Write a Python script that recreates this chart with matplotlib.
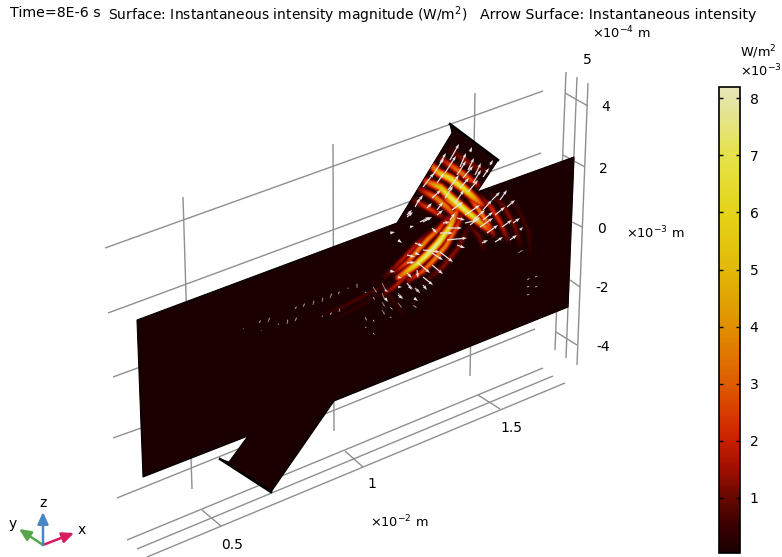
"""
plot.py
COMSOL style surface plot of instantaneous intensity on a branched plate.
The scene is a perspective view, so geometry is kept in picture pixels.
"""

import matplotlib
matplotlib.use("Agg")
import matplotlib.pyplot as plt
import numpy as np
from matplotlib.colors import LinearSegmentedColormap, Normalize
from matplotlib.cm import ScalarMappable
from matplotlib.patches import Polygon

# plate outline, with both branches
plate_outline = [(137, 320), (397, 223), (452, 133), (450, 124), (498, 160), (477, 192),
                 (574, 157), (568, 307), (334, 401), (271, 492), (220, 459), (229, 462),
                 (248, 436), (143, 477)]
branch_end = [(450, 124), (498, 160)]
branch_tab = [(220, 459), (271, 492)]

# grid lines behind the plate
wall_lines = [[(105, 248), (543, 91)], [(108, 313), (541, 153)], [(113, 377), (530, 225)],
              [(113, 438), (530, 290)], [(117, 498), (535, 329)]]
wall_verticals = [[(183, 197), (192, 489)], [(333, 144), (334, 431)], [(475, 93), (470, 376)]]
right_lines = [[(566, 72), (555, 350)], [(577, 77), (566, 358)], [(588, 83), (577, 365)]]
right_ticks = [[(565, 93), (588, 106)], [(563, 155), (585, 167)], [(572, 222), (582, 227)],
               [(570, 280), (580, 287)], [(556, 332), (577, 345)]]
floor_lines = [[(127, 540), (543, 368)], [(137, 549), (553, 376)], [(147, 557), (565, 383)]]
floor_ticks = [[(202, 510), (221, 526)], [(345, 451), (363, 467)], [(478, 395), (500, 409)]]

# fringes of the intensity field: value in W/m2 (x1e-3), half width in px, centre line
fringes = [
    (1.3, 3.5, [(450, 150), (460, 158), (472, 166), (485, 172)]),
    (3.4, 3.5, [(441, 160), (452, 167), (463, 175), (478, 186)]),
    (7.0, 3.8, [(430, 165), (438, 173), (450, 179), (462, 188), (472, 197), (481, 205)]),
    (7.6, 3.8, [(426, 182), (440, 188), (450, 198), (458, 205), (470, 215), (488, 230)]),
    (3.8, 3.5, [(420, 190), (435, 198), (447, 208), (458, 220)]),
    (2.4, 3.2, [(414, 201), (432, 211), (443, 218)]),
    (3.6, 3.0, [(468, 197), (478, 210), (486, 222), (493, 235)]),
    (2.2, 3.0, [(480, 197), (490, 207), (500, 223), (507, 240)]),
    (1.2, 3.0, [(492, 195), (504, 208), (514, 226), (520, 245)]),
    (0.6, 2.5, [(505, 193), (518, 210), (528, 232), (530, 255)]),
    (1.0, 3.0, [(468, 225), (478, 236), (484, 250)]),
    (4.6, 3.5, [(443, 198), (452, 203), (460, 212)]),
    (3.8, 3.0, [(461, 216), (455, 230), (445, 247), (432, 262), (422, 272), (408, 281)]),
    (8.0, 3.5, [(456, 212), (449, 228), (438, 243), (427, 255), (417, 264), (398, 278)]),
    (3.8, 3.0, [(448, 218), (438, 230), (428, 239), (418, 250), (408, 262), (395, 272)]),
    (1.8, 3.0, [(431, 232), (418, 243), (405, 257), (385, 277)]),
    (1.3, 3.0, [(468, 228), (458, 248), (442, 268), (425, 282)]),
    (1.8, 2.5, [(418, 268), (403, 279), (393, 288), (382, 296)]),
    (0.7, 2.2, [(393, 283), (370, 293), (343, 307), (323, 315)]),
    (0.4, 2.0, [(385, 292), (360, 306), (335, 320)]),
    (0.5, 2.5, [(373, 280), (390, 297), (402, 315)]),
]

# arrows as (tail x, tail y, head x, head y) in px, grouped by region
arrows_upper_branch = [
    (450, 160, 459, 144), (460, 167, 466, 153), (468, 170, 474, 158), (475, 175, 481, 163),
    (483, 177, 489, 168), (440, 163, 446, 153), (433, 175, 444, 158), (445, 173, 456, 156),
    (457, 175, 466, 161), (463, 178, 473, 166), (473, 183, 481, 170), (423, 187, 434, 173),
    (437, 183, 444, 173), (448, 190, 459, 175), (460, 188, 469, 178), (468, 192, 478, 180),
    (432, 198, 441, 190), (445, 198, 453, 186), (455, 203, 464, 190), (418, 202, 423, 195),
    (415, 207, 420, 198), (427, 208, 432, 203), (437, 210, 443, 202), (452, 210, 463, 202),
    (465, 215, 480, 205), (407, 217, 413, 212), (420, 222, 430, 217), (450, 220, 455, 213),
    (473, 220, 485, 210), (483, 210, 492, 200), (492, 200, 500, 192), (480, 227, 493, 218),
    (470, 152, 472, 147), (490, 165, 493, 160),
]
arrows_right_branch = [
    (470, 225, 480, 217), (483, 220, 493, 212), (495, 215, 505, 207), (507, 207, 515, 200),
    (500, 200, 507, 190), (487, 233, 498, 225), (502, 227, 512, 220), (513, 223, 520, 218),
    (482, 243, 488, 240), (495, 242, 503, 237), (510, 240, 517, 235), (520, 230, 523, 227),
]
arrows_lower_lobe = [
    (440, 233, 453, 233), (447, 228, 462, 228), (447, 240, 467, 238), (457, 245, 465, 248),
    (415, 243, 423, 246), (423, 250, 440, 252), (432, 228, 437, 233), (398, 240, 402, 243),
    (432, 253, 443, 260), (440, 252, 453, 262), (415, 253, 420, 255), (407, 255, 415, 257),
    (407, 263, 415, 262), (417, 262, 430, 273), (432, 265, 443, 274), (407, 273, 412, 278),
    (417, 270, 418, 278), (423, 277, 433, 285), (423, 285, 427, 290), (407, 283, 412, 290),
    (398, 277, 402, 278), (398, 287, 402, 287), (398, 295, 403, 299), (415, 288, 420, 293),
    (414, 298, 418, 301), (385, 290, 388, 292), (385, 298, 388, 302), (390, 271, 395, 272),
    (443, 223, 450, 222), (423, 222, 432, 217), (410, 227, 414, 226), (390, 233, 395, 232),
    (407, 215, 412, 210), (437, 215, 443, 210), (457, 218, 465, 220), (465, 223, 478, 220),
]
arrows_lower_left = [
    (373, 287, 377, 293), (382, 283, 386, 291), (382, 293, 385, 300), (382, 302, 385, 307),
    (398, 293, 403, 298), (390, 307, 393, 310), (398, 303, 402, 308), (407, 283, 413, 289),
    (415, 288, 420, 293), (413, 305, 417, 308), (382, 310, 385, 315), (390, 317, 392, 318),
    (365, 292, 367, 293), (373, 297, 375, 300), (365, 317, 367, 321), (365, 327, 367, 328),
    (373, 320, 375, 322), (373, 333, 375, 335), (357, 288, 357, 283), (348, 289, 348, 287),
    (338, 294, 340, 291), (330, 298, 332, 293), (322, 302, 323, 297), (313, 305, 314, 300),
    (303, 307, 305, 303), (295, 309, 297, 306), (330, 315, 332, 312), (339, 312, 340, 308),
    (322, 317, 323, 315), (295, 321, 297, 317), (287, 324, 288, 319), (278, 325, 279, 323),
    (268, 322, 270, 317), (259, 323, 261, 320), (243, 329, 244, 328), (261, 331, 262, 330),
    (518, 253, 523, 250), (527, 280, 530, 278), (527, 287, 530, 286), (527, 295, 530, 294),
    (535, 277, 538, 276), (535, 287, 538, 286),
]

# colour bar, colours given at values
cbar_values = [0.03, 0.5, 1, 1.5, 2, 2.5, 3, 4, 5, 6, 7, 8, 8.2]
cbar_colors = ["#1a0000", "#3a0000", "#680800", "#a01000", "#c82000", "#d83c00", "#de5c00",
               "#e09000", "#e2b808", "#e4d418", "#e5e24a", "#e5e5a8", "#e6e6b8"]
cbar_ticks = [1, 2, 3, 4, 5, 6, 7, 8]

norm = Normalize(cbar_values[0], cbar_values[-1])
heat = LinearSegmentedColormap.from_list("heat", [(float(norm(v)), c) for v, c in zip(cbar_values, cbar_colors)])


def fringe_field(xx, yy):
    """Lay the fringes on a pixel grid, each one falling off across its width and towards its ends."""
    field = np.zeros_like(xx, dtype=float)
    for value, width, points in fringes:
        pts = np.array(points, dtype=float)
        best = np.full(xx.shape, np.inf)
        along = np.zeros(xx.shape)
        seg_len = np.hypot(*np.diff(pts, axis=0).T)
        start = np.concatenate([[0], np.cumsum(seg_len)])
        for i in range(len(seg_len)):
            d = (pts[i + 1] - pts[i]) / seg_len[i]
            t = np.clip((xx - pts[i, 0]) * d[0] + (yy - pts[i, 1]) * d[1], 0, seg_len[i])
            dist = np.hypot(xx - pts[i, 0] - t * d[0], yy - pts[i, 1] - t * d[1])
            closer = dist < best
            best[closer] = dist[closer]
            along[closer] = (start[i] + t[closer]) / start[-1]
        taper = 0.35 + 0.65 * np.sin(np.pi * along)
        field = np.maximum(field, value * taper * np.exp(-(best / width) ** 2))
    return field


def draw_arrows(ax, arrows, width, headwidth, colour):
    rows = np.array(arrows, dtype=float)
    ax.quiver(rows[:, 0], rows[:, 1], rows[:, 2] - rows[:, 0], rows[:, 3] - rows[:, 1],
              angles="xy", scale_units="xy", scale=1, units="xy", width=width,
              headwidth=headwidth, headlength=4, headaxislength=3.5, minlength=0.5,
              color=colour, zorder=4)


plt.rcParams["font.family"] = "DejaVu Sans"
plt.rcParams["mathtext.fontset"] = "dejavusans"

fig = plt.figure(figsize=(7.82, 5.57), dpi=100)
ax = fig.add_axes([0, 0, 1, 1])
ax.axis("off")

GRID = "#8f8f8f"
for line in wall_lines + wall_verticals + right_lines + right_ticks + floor_lines + floor_ticks:
    xs, ys = zip(*line)
    ax.plot(xs, ys, color=GRID, lw=1.0, solid_capstyle="butt", zorder=1)

plate = Polygon(plate_outline, closed=True, facecolor="#1a0000", edgecolor="black", lw=0.8, zorder=2)
ax.add_patch(plate)
for edge in (branch_end, branch_tab):
    xs, ys = zip(*edge)
    ax.plot(xs, ys, color="black", lw=1.8, zorder=5)

xx, yy = np.meshgrid(np.arange(300, 580), np.arange(110, 350))
image = ax.imshow(fringe_field(xx, yy), extent=(299.5, 579.5, 349.5, 109.5), cmap=heat, norm=norm,
                  interpolation="bilinear", aspect="auto", zorder=3)
image.set_clip_path(plate)

draw_arrows(ax, arrows_upper_branch + arrows_right_branch + arrows_lower_lobe, 1.2, 2.8, "#e8e4e4")
draw_arrows(ax, arrows_lower_left, 0.7, 2.2, "#b9aaaa")

ax.set_xlim(0, 782)
ax.set_ylim(557, 0)

# orientation triad
triad = [("x", (74, 533), "#d81b60", (82, 530)), ("y", (19, 529), "#58a64a", (13, 524)),
         ("z", (43, 512), "#4a86c5", (43, 503))]
for name, tip, colour, label_at in triad:
    ax.annotate("", xy=tip, xytext=(43, 545), zorder=6,
                arrowprops=dict(arrowstyle="-|>,head_length=0.7,head_width=0.32", color=colour,
                                lw=1.8, shrinkA=0, shrinkB=0))
    ax.text(*label_at, name, ha="center", va="center", fontsize=10)

# header text
ax.text(10, 13, "Time=8E-6 s", ha="left", va="center", fontsize=10.2)
ax.text(108, 15, "Surface: Instantaneous intensity magnitude (W/m$^2$)", ha="left", va="center", fontsize=10)
ax.text(480, 15, "Arrow Surface: Instantaneous intensity", ha="left", va="center", fontsize=10.2)

# axis scale labels
tick_labels = [("5", 587, 60), ("4", 606, 107), ("2", 603, 169), ("0", 601, 229), ("-2", 602, 288),
               ("-4", 603, 347), ("0.5", 232, 545), ("1", 372, 484), ("1.5", 511, 428)]
for text, x, y in tick_labels:
    ax.text(x, y, text, ha="center", va="center", fontsize=10)
ax.text(592, 33, "×10$^{-4}$ m", ha="left", va="center", fontsize=9.3)
ax.text(626, 233, "×10$^{-3}$ m", ha="left", va="center", fontsize=9.3)
ax.text(370, 522, "×10$^{-2}$ m", ha="left", va="center", fontsize=9.3)
ax.text(740, 52, "W/m$^2$", ha="left", va="center", fontsize=9.3)
ax.text(740, 71, "×10$^{-3}$", ha="left", va="center", fontsize=9.3)

# colour bar axes, placed in figure fractions
cax = fig.add_axes([719 / 782, 1 - 553 / 557, 21 / 782, 466 / 557])
cbar = fig.colorbar(ScalarMappable(norm=norm, cmap=heat), cax=cax, ticks=cbar_ticks)
cbar.ax.tick_params(direction="in", length=3, width=1, left=True, right=True, labelsize=10, pad=7)
cbar.ax.set_yticklabels([str(t) for t in cbar_ticks])
cbar.outline.set_linewidth(1.2)

fig.savefig("out.png", dpi=100)
